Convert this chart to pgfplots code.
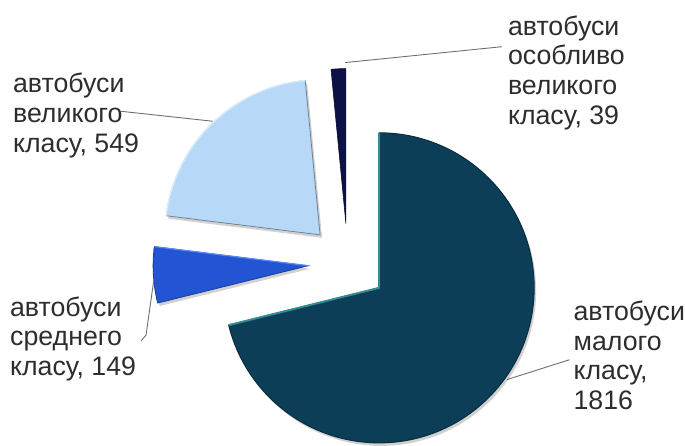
\documentclass[border=0pt]{standalone}
\usepackage{pgfplots}
\pgfplotsset{compat=1.18}
\usepackage{pgfplotstable}
\usetikzlibrary{calc}
\usepackage{fontspec}
\setmainfont{Liberation Sans}

\definecolor{cBig}{RGB}{12,62,88}
\definecolor{cBigHi}{RGB}{50,140,145}
\definecolor{cMid}{RGB}{34,84,212}
\definecolor{cMidHi}{RGB}{90,140,240}
\definecolor{cLarge}{RGB}{184,216,247}
\definecolor{cLargeHi}{RGB}{215,235,252}
\definecolor{cXL}{RGB}{12,18,70}
\definecolor{cLead}{RGB}{110,110,110}
\definecolor{cText}{RGB}{45,45,45}

% values in clockwise order starting at 12 o'clock
\pgfplotstableread{
name value
small 1816
medium 149
large 549
extra 39
}\piedata

\pgfplotstablegetelem{0}{value}\of\piedata \let\va\pgfplotsretval
\pgfplotstablegetelem{1}{value}\of\piedata \let\vb\pgfplotsretval
\pgfplotstablegetelem{2}{value}\of\piedata \let\vc\pgfplotsretval
\pgfplotstablegetelem{3}{value}\of\piedata \let\vd\pgfplotsretval

\pgfmathsetmacro{\tot}{\va+\vb+\vc+\vd}
\pgfmathsetmacro{\aA}{90}
\pgfmathsetmacro{\aB}{\aA-360*(\va/\tot)}
\pgfmathsetmacro{\aC}{\aB-360*(\vb/\tot)}
\pgfmathsetmacro{\aD}{\aC-360*(\vc/\tot)}
\pgfmathsetmacro{\aE}{\aD-360*(\vd/\tot)}
\def\cx{350}\def\cy{181}\def\ex{40}\def\R{156}
\pgfmathsetmacro{\xA}{\cx+\ex*cos((\aA+\aB)/2)}\pgfmathsetmacro{\yA}{\cy+\ex*sin((\aA+\aB)/2)}
\pgfmathsetmacro{\xB}{\cx+\ex*cos((\aB+\aC)/2)}\pgfmathsetmacro{\yB}{\cy+\ex*sin((\aB+\aC)/2)}
\pgfmathsetmacro{\xC}{\cx+\ex*cos((\aC+\aD)/2)}\pgfmathsetmacro{\yC}{\cy+\ex*sin((\aC+\aD)/2)}
\pgfmathsetmacro{\xD}{\cx+\ex*cos((\aD+\aE)/2)}\pgfmathsetmacro{\yD}{\cy+\ex*sin((\aD+\aE)/2)}

\begin{document}
\begin{tikzpicture}
\begin{axis}[
  width=685bp, height=446bp, scale only axis,
  xmin=0, xmax=685, ymin=0, ymax=446,
  hide axis, clip=false,
]
\path (axis cs:0,0) rectangle (axis cs:685,446);

% shadows
\fill[black!18] (axis cs:\xA+2,\yA-3) -- ++(\aA:\R bp) arc[start angle=\aA, end angle=\aB, radius=\R bp] -- cycle;
\fill[black!18] (axis cs:\xB+2,\yB-3) -- ++(\aB:\R bp) arc[start angle=\aB, end angle=\aC, radius=\R bp] -- cycle;
\fill[black!18] (axis cs:\xC+2,\yC-3) -- ++(\aC:\R bp) arc[start angle=\aC, end angle=\aD, radius=\R bp] -- cycle;

% slices
\filldraw[fill=cBig, draw=cBig!70!black, line width=1pt] (axis cs:\xA,\yA) -- ++(\aA:\R bp) arc[start angle=\aA, end angle=\aB, radius=\R bp] -- cycle;
\draw[cBigHi, line width=2pt] ($(axis cs:\xA,\yA)+(\aA:\R bp)$) -- (axis cs:\xA,\yA) -- ++(\aB:\R bp);
\filldraw[fill=cMid, draw=cMid!70!black, line width=0.8pt] (axis cs:\xB,\yB) -- ++(\aB:\R bp) arc[start angle=\aB, end angle=\aC, radius=\R bp] -- cycle;
\draw[cMidHi, line width=1.2pt] (axis cs:\xB,\yB) -- ++(\aC:\R bp);
\filldraw[fill=cLarge, draw=cLarge!60!black, line width=0.8pt] (axis cs:\xC,\yC) -- ++(\aC:\R bp) arc[start angle=\aC, end angle=\aD, radius=\R bp] -- cycle;
\draw[cLargeHi, line width=1.5pt] ($(axis cs:\xC,\yC)+(\aC:\R bp)$) arc[start angle=\aC, end angle=\aD, radius=\R bp];
\filldraw[fill=cXL, draw=cXL!70!black, line width=0.6pt] (axis cs:\xD,\yD) -- ++(\aD:\R bp) arc[start angle=\aD, end angle=\aE, radius=\R bp] -- cycle;

% leader lines
\draw[cLead, line width=0.9pt] (axis cs:122,334) -- (axis cs:214,324);
\draw[cLead, line width=0.9pt] (axis cs:505,399) -- (axis cs:347,383);
\draw[cLead, line width=0.9pt] (axis cs:142,103) -- (axis cs:147,109) -- (axis cs:155,166);
\draw[cLead, line width=0.9pt] (axis cs:573,84) -- (axis cs:510,64);

% labels (anchored at the baseline of their last line)
\begin{scope}[every node/.style={anchor=base west, align=left, inner sep=0pt,
   font=\fontsize{27}{30}\selectfont, text=cText}]
\node at (axis cs:13,293) {автобуси\\великого\\класу, 549};
\node at (axis cs:511,321) {автобуси\\особливо\\великого\\класу, 39};
\node at (axis cs:10,68) {автобуси\\среднего\\класу, 149};
\node at (axis cs:577,34) {автобуси\\малого\\класу,\\1816};
\end{scope}
\end{axis}
\end{tikzpicture}
\end{document}
